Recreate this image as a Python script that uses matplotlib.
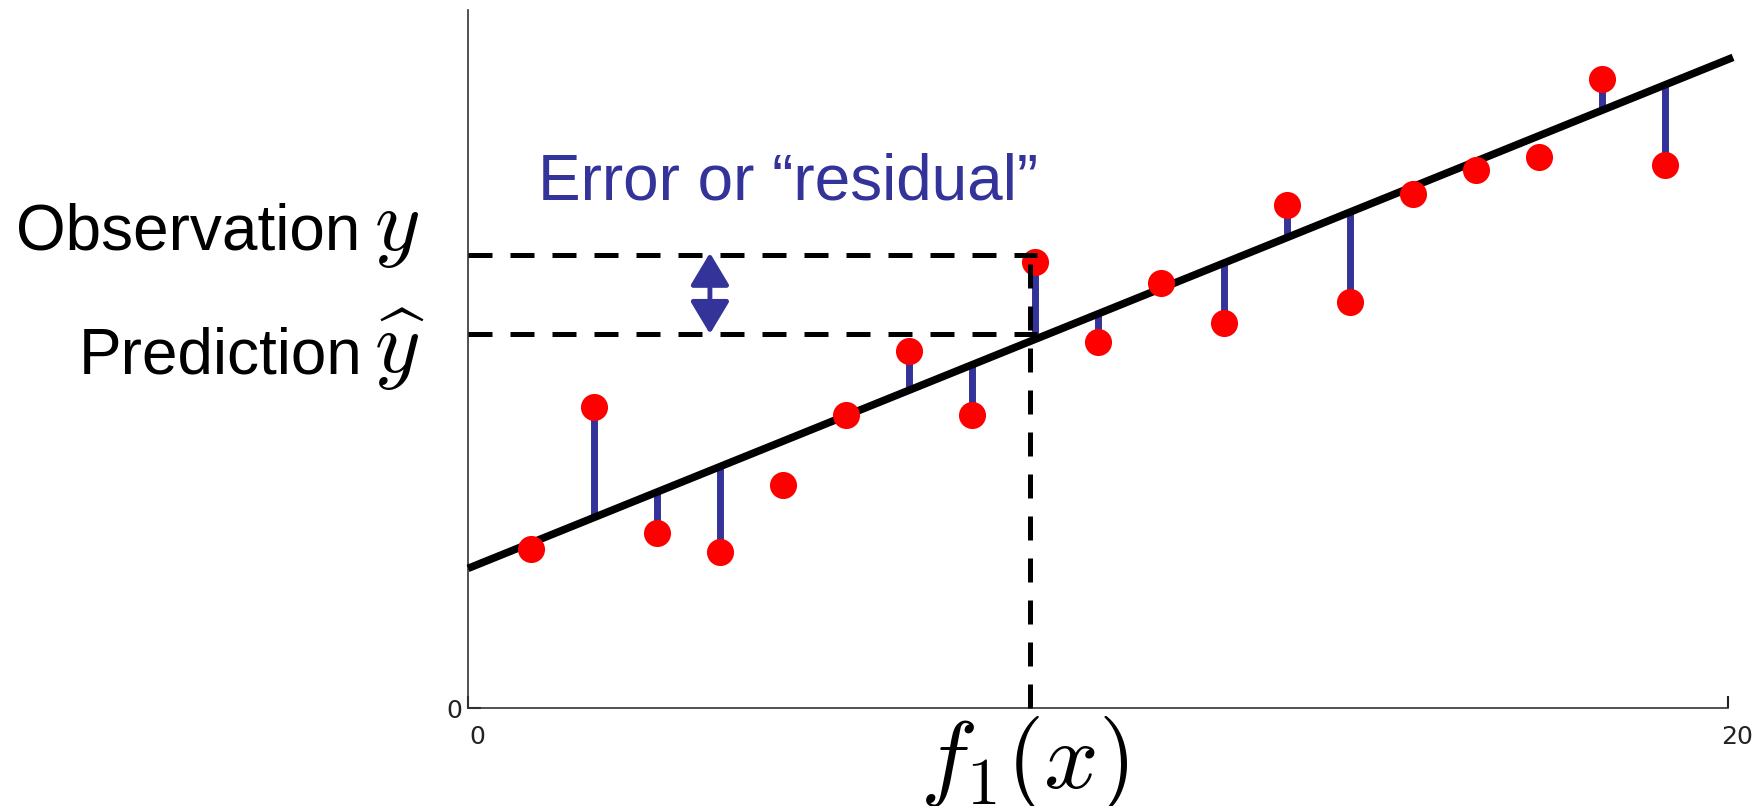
import matplotlib
matplotlib.use("Agg")
import matplotlib.pyplot as plt
import matplotlib.transforms as mtransforms

plt.rcParams['font.family'] = ['Liberation Sans', 'DejaVu Sans']
plt.rcParams['mathtext.fontset'] = 'cm'

x_obs = [1, 2, 3, 4, 5, 6, 7, 8, 9, 10, 11, 12, 13, 14, 15, 16, 17, 18, 19]
y_obs = [2.28, 4.31, 2.51, 2.23, 3.19, 4.20, 5.11, 4.20, 6.39, 5.24,
         6.09, 5.52, 7.21, 5.82, 7.36, 7.71, 7.89, 9.01, 7.78]
# which points get a residual bar
show_resid = [0, 1, 1, 1, 0, 0, 1, 1, 1, 1, 0, 1, 1, 1, 0, 0, 0, 1, 1]

# fitted line
fit_intercept = 2.0
fit_slope = 0.3646
fit_x = [0, 20.08]

# the highlighted point
x_mark = 8.92
obs_level = 6.49
pred_level = 5.36
dash_end = 9.03
arrow_x = 3.84

blue = '#333399'

fig = plt.figure(figsize=(17.55, 8.06), dpi=100)
ax = fig.add_axes([468/1755, 1 - 708/806, (1728 - 468)/1755, (708 - 10)/806])

def fit(x):
    return fit_intercept + fit_slope * x

# residual bars
for x, y, s in zip(x_obs, y_obs, show_resid):
    if s:
        ax.plot([x, x], [y, fit(x)], color=blue, lw=5, solid_capstyle='butt', zorder=2)

ax.plot(fit_x, [fit(v) for v in fit_x], color='black', lw=5.5, zorder=3,
        solid_capstyle='butt', clip_on=False)
ax.plot(x_obs, y_obs, 'o', color='red', ms=19.5, mec='none', zorder=4)

dash = (0, (4.8, 3.6))
ax.plot([0, dash_end], [obs_level, obs_level], color='black', lw=3.6, ls=dash, zorder=5)
ax.plot([0, dash_end], [pred_level, pred_level], color='black', lw=3.6, ls=dash, zorder=5)
ax.plot([x_mark, x_mark], [0, obs_level], color='black', lw=3.6, ls=dash, zorder=5,
        clip_on=False)

ax.annotate('', xy=(arrow_x, obs_level + 0.03), xytext=(arrow_x, pred_level),
            arrowprops=dict(arrowstyle='<|-|>,head_length=1.0,head_width=0.6',
                            mutation_scale=20, color=blue, lw=3.5,
                            shrinkA=0, shrinkB=0), zorder=6)

ax.set_xlim(0, 20)
ax.set_ylim(0, 10)
ax.set_xticks([0, 20])
ax.set_yticks([0])
ax.spines['top'].set_visible(False)
ax.spines['right'].set_visible(False)
for sp in ['left', 'bottom']:
    ax.spines[sp].set_color('#333333')
    ax.spines[sp].set_linewidth(1.2)
ax.tick_params(axis='both', direction='in', length=9, width=1.5, labelsize=18,
               colors='#222222')
ax.tick_params(axis='x', pad=12)
ax.tick_params(axis='y', pad=4)
shift = mtransforms.ScaledTranslation(9/100, 0, fig.dpi_scale_trans)
for lab in ax.get_xticklabels():
    lab.set_transform(lab.get_transform() + shift)
    lab.set_fontfamily('DejaVu Sans')
for lab in ax.get_yticklabels():
    lab.set_fontfamily('DejaVu Sans')

# labels outside the axes, in figure pixel positions
W, H = 1755, 806
fig.text(360/W, 1 - 250/H, 'Observation', fontsize=46, ha='right', va='baseline')
fig.text(374/W, 1 - 250/H, '$y$', fontsize=63, ha='left', va='baseline')
fig.text(362/W, 1 - 373/H, 'Prediction', fontsize=46, ha='right', va='baseline')
fig.text(374/W, 1 - 373/H, r'$\widehat{y}$', fontsize=63, ha='left', va='baseline')
fig.text(538/W, 1 - 199/H, 'Error or \u201cresidual\u201d', fontsize=46, color=blue,
         ha='left', va='baseline')
fig.text(1024/W, 1 - 788/H, '$f_1(x)$', fontsize=69, ha='center', va='baseline')

fig.savefig('out.png', dpi=100)
